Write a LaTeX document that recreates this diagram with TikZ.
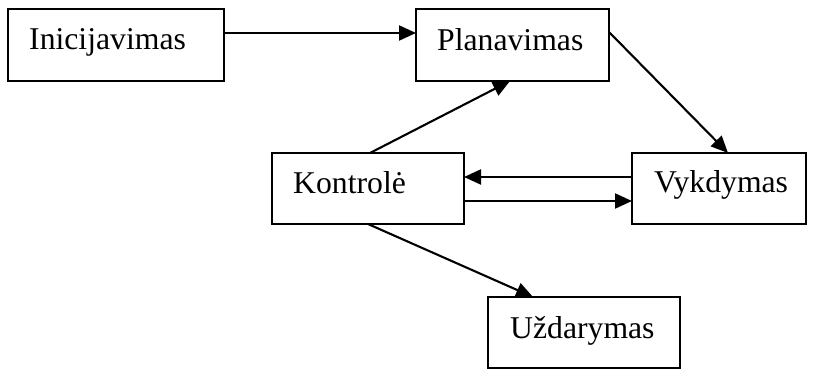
\documentclass[tikz,border=0pt]{standalone}
\usepackage{fontspec}
\setmainfont{Liberation Serif}
\usetikzlibrary{arrows.meta}
\begin{document}
\begin{tikzpicture}[x=1pt,y=-1pt,
  box/.style={draw=black, line width=2.1pt, rectangle, anchor=north west, inner sep=0pt, outer sep=0pt},
  lbl/.style={anchor=base west, inner sep=0pt, font=\fontsize{31.7}{38}\selectfont},
  conn/.style={draw=black, line width=2.1pt, -{Triangle[length=17pt,width=15pt]}}]
\useasboundingbox (0,0) rectangle (813,371);
\node[box, minimum width=216pt, minimum height=72pt] (ini) at (8,9) {};
\node[box, minimum width=193pt, minimum height=72pt] (plan) at (416,9) {};
\node[box, minimum width=192pt, minimum height=71pt] (kon) at (272,153) {};
\node[box, minimum width=174pt, minimum height=71pt] (vyk) at (632,153) {};
\node[box, minimum width=192pt, minimum height=71pt] (uzd) at (488,297) {};
\node[lbl] (tini) at (29,50) {Inicijavimas};
\node[lbl] (tplan) at (437,51) {Planavimas};
\node[lbl] (tkon) at (293,194) {Kontrolė};
\node[lbl] (tvyk) at (654,193) {Vykdymas};
\node[lbl] (tuzd) at (510,338) {Uždarymas};
\draw[conn] ([yshift=12pt]ini.east) -- ([yshift=12pt]ini.east -| plan.west);
\draw[conn] ([yshift=13pt]plan.east) -- ([xshift=9pt]vyk.north);
\draw[conn] ([xshift=2pt]kon.north) -- ([xshift=-2.5pt]plan.south);
\draw[conn] ([yshift=11.5pt]vyk.west) -- ([yshift=11.5pt]vyk.west -| kon.east);
\draw[conn] ([yshift=-12.5pt]kon.east) -- ([yshift=-12.5pt]kon.east -| vyk.west);
\draw[conn] (kon.south) -- ([xshift=-51pt]uzd.north);
\end{tikzpicture}
\end{document}
